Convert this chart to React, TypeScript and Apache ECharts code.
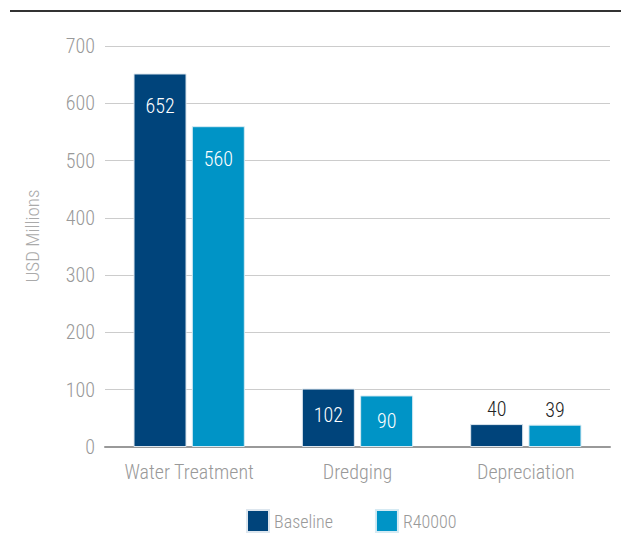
import React, { useEffect, useRef } from "react";
import * as echarts from "echarts";

const categories = ["Water Treatment", "Dredging", "Depreciation"];
const baseline = [652, 102, 40];
const r40000 = [560, 90, 39];
const seriesNames = ["Baseline", "R40000"];
const yTicks = { min: 0, max: 700, interval: 100 };
const yAxisTitle = "USD Millions";

const FONT = "'Roboto Condensed', 'Liberation Sans Narrow', Roboto, sans-serif";
const W = 300;

export default function App() {
  const ref = useRef<HTMLDivElement>(null);
  useEffect(() => {
    document.body.style.margin = "0";
    const chart = echarts.init(ref.current!, null, { renderer: "svg" });
    const labelFor = (vals: number[]) =>
      vals.map((v) =>
        v >= 80
          ? {
              value: v,
              label: {
                show: true,
                position: "insideTop",
                distance: v > 300 ? 23 : 16,
                color: "#ffffff",
                fontSize: 20,
                fontWeight: W,
                fontFamily: FONT,
              },
            }
          : {
              value: v,
              label: {
                show: true,
                position: "top",
                distance: 5,
                color: "#222222",
                fontSize: 20,
                fontWeight: W,
                fontFamily: FONT,
              },
            }
      );
    chart.setOption({
      animation: false,
      backgroundColor: "#ffffff",
      textStyle: { fontFamily: FONT },
      graphic: [
        {
          type: "line",
          shape: { x1: 10, y1: 11, x2: 621, y2: 11 },
          style: { stroke: "#333333", lineWidth: 2 },
        },
        {
          type: "text",
          x: 32,
          y: 236,
          rotation: Math.PI / 2,
          style: {
            text: yAxisTitle,
            fill: "#aaaaaa",
            fontSize: 19,
            fontWeight: W,
            fontFamily: FONT,
            align: "center",
            verticalAlign: "middle",
          },
        },
      ],
      grid: { left: 105, right: 11, top: 46, bottom: 86, containLabel: false },
      legend: {
        data: seriesNames,
        left: 241,
        top: 504,
        itemWidth: 22,
        itemHeight: 22,
        itemGap: 42,
        icon: "rect",
        textStyle: { color: "#999999", fontSize: 18, fontWeight: W, fontFamily: FONT },
      },
      xAxis: {
        type: "category",
        data: categories,
        axisLine: { show: true, lineStyle: { color: "#999999", width: 2 } },
        axisTick: { show: false },
        axisLabel: {
          color: "#999999",
          fontSize: 20,
          fontWeight: W,
          margin: 15,
          interval: 0,
          fontFamily: FONT,
        },
      },
      yAxis: {
        type: "value",
        min: yTicks.min,
        max: yTicks.max,
        interval: yTicks.interval,
        axisLine: { show: false },
        axisTick: { show: false },
        axisLabel: { color: "#999999", fontSize: 20, fontWeight: W, margin: 10, fontFamily: FONT },
        splitLine: { lineStyle: { color: "#cccccc", width: 1 } },
      },
      series: [
        {
          name: seriesNames[0],
          type: "bar",
          data: labelFor(baseline),
          barWidth: 53,
          barGap: "10%",
          itemStyle: { color: "#00447B", borderColor: "#dde6ee", borderWidth: 1 },
        },
        {
          name: seriesNames[1],
          type: "bar",
          data: labelFor(r40000),
          barWidth: 53,
          barGap: "10%",
          itemStyle: { color: "#0094C6", borderColor: "#d5eaf3", borderWidth: 1 },
        },
      ],
    });
    return () => chart.dispose();
  }, []);
  return <div ref={ref} style={{ width: 621, height: 533 }} />;
}
